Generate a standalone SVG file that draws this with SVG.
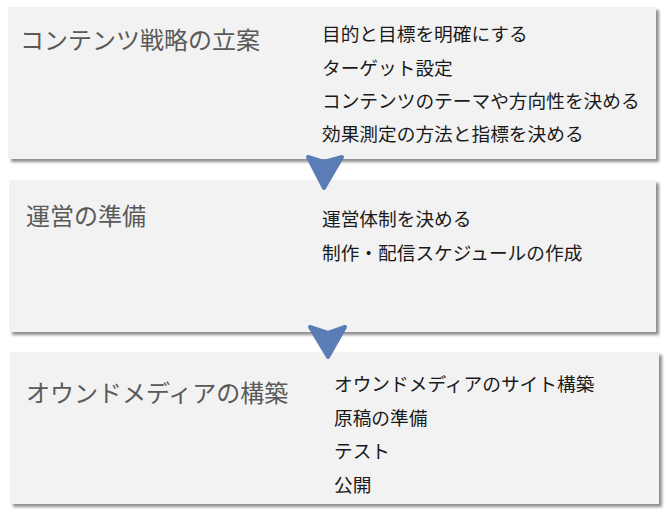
<svg xmlns="http://www.w3.org/2000/svg" width="666" height="515" viewBox="0 0 666 515">
<defs>
<filter id="sh" x="-5%" y="-10%" width="112%" height="125%">
<feGaussianBlur in="SourceAlpha" stdDeviation="1.5"/>
<feOffset dx="2.5" dy="2.5" result="b"/>
<feComponentTransfer><feFuncA type="linear" slope="0.45"/></feComponentTransfer>
<feMerge><feMergeNode/><feMergeNode in="SourceGraphic"/></feMerge>
</filter>
</defs>
<style>
.box{fill:#F2F2F2;filter:url(#sh);}
.title{font-family:"Noto Sans CJK JP","Noto Sans CJK SC",sans-serif;font-size:24px;fill:#595959;}
.item{font-family:"Noto Sans CJK JP","Noto Sans CJK SC",sans-serif;font-size:18.7px;fill:#1a1a1a;}
.arrow{fill:#5B7DB6;stroke:#5B7DB6;stroke-width:4;stroke-linejoin:round;}
</style>
<rect width="666" height="515" fill="#FFFFFF"/>
<g id="node1">
<rect class="box" x="8" y="7" width="648" height="152"/>
<text class="title" x="20" y="49">コンテンツ戦略の立案</text>
<text class="item" x="322" y="41">目的と目標を明確にする</text>
<text class="item" x="322" y="75">ターゲット設定</text>
<text class="item" x="322" y="108">コンテンツのテーマや方向性を決める</text>
<text class="item" x="322" y="141">効果測定の方法と指標を決める</text>
</g>
<g id="node2">
<rect class="box" x="9" y="180" width="647" height="152"/>
<text class="title" x="26" y="225">運営の準備</text>
<text class="item" x="322" y="226">運営体制を決める</text>
<text class="item" x="322" y="260">制作・配信スケジュールの作成</text>
</g>
<g id="node3">
<rect class="box" x="10" y="352" width="649" height="152"/>
<text class="title" x="26" y="402">オウンドメディアの構築</text>
<text class="item" x="334" y="391">オウンドメディアのサイト構築</text>
<text class="item" x="334" y="425">原稿の準備</text>
<text class="item" x="334" y="458">テスト</text>
<text class="item" x="334" y="492">公開</text>
</g>
<g id="connectors">
<path class="arrow" d="M308,157 L324,162 L342,157 L324,188 Z"/>
<path class="arrow" d="M310,327 L328,333 L345,327 L328,357 Z"/>
</g>
</svg>
